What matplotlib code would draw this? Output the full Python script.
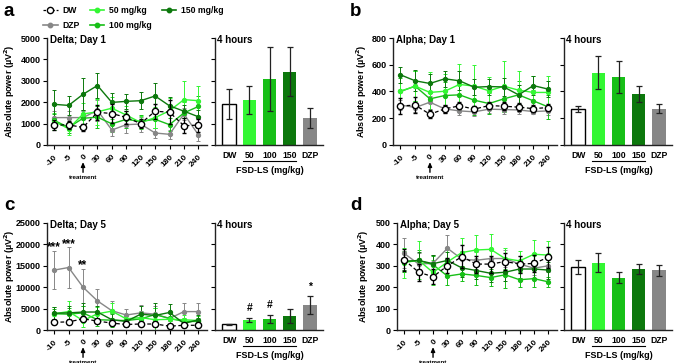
import matplotlib
matplotlib.use('Agg')
import matplotlib.pyplot as plt
import matplotlib.transforms as mtransforms
import numpy as np

plt.rcParams['font.family'] = ['Liberation Sans', 'DejaVu Sans']
plt.rcParams['font.weight'] = 'bold'
plt.rcParams['font.size'] = 6.5

times = ['-10', '-5', '0', '30', '60', '90', '120', '150', '180', '210', '240']
groups = ['DW', '50 mg/kg', '100 mg/kg', '150 mg/kg', 'DZP']
bar_labels = ['DW', '50', '100', '150', 'DZP']
colors = {'DW': 'white', '50 mg/kg': '#33f733', '100 mg/kg': '#17bf17',
          '150 mg/kg': '#0c780c', 'DZP': '#878787'}

# ---- a: Delta, Day 1 ----
a_mean = {
    'DW':        [930, 940, 820, 1530, 1470, 1290, 1000, 1580, 1530, 900, 930],
    '50 mg/kg':  [1100, 760, 1450, 1550, 1720, 1400, 1050, 1280, 1600, 2120, 2070],
    '100 mg/kg': [1150, 820, 1250, 1300, 990, 1200, 1100, 1200, 950, 1500, 1800],
    '150 mg/kg': [1900, 1850, 2370, 2780, 1990, 2040, 2070, 2290, 1830, 1580, 1320],
    'DZP':       [1280, 1280, 1280, 1620, 700, 950, 980, 560, 500, 1450, 480],
}
a_err = {
    'DW':        [250, 200, 150, 350, 450, 300, 200, 350, 550, 350, 300],
    '50 mg/kg':  [400, 300, 500, 600, 500, 400, 300, 500, 600, 850, 700],
    '100 mg/kg': [300, 250, 400, 500, 400, 400, 300, 400, 300, 500, 500],
    '150 mg/kg': [650, 450, 750, 600, 450, 350, 400, 600, 400, 300, 300],
    'DZP':       [300, 300, 300, 500, 300, 400, 350, 250, 200, 300, 300],
}
a_bar = [1900, 2120, 3100, 3420, 1260]
a_bar_err = [700, 650, 1500, 1150, 450]

# ---- b: Alpha, Day 1 ----
b_mean = {
    'DW':        [292, 298, 230, 270, 293, 268, 295, 290, 283, 272, 280],
    '50 mg/kg':  [402, 440, 393, 402, 453, 440, 405, 440, 410, 393, 393],
    '100 mg/kg': [400, 440, 345, 370, 375, 335, 310, 345, 375, 330, 285],
    '150 mg/kg': [525, 480, 460, 495, 480, 432, 437, 434, 375, 444, 418],
    'DZP':       [300, 280, 320, 270, 255, 248, 268, 265, 262, 250, 255],
}
b_err = {
    'DW':        [60, 60, 30, 30, 25, 25, 25, 30, 30, 25, 25],
    '50 mg/kg':  [120, 110, 150, 130, 150, 160, 100, 190, 140, 120, 120],
    '100 mg/kg': [100, 110, 120, 100, 110, 110, 80, 100, 100, 80, 90],
    '150 mg/kg': [60, 80, 70, 60, 70, 60, 60, 70, 70, 70, 60],
    'DZP':       [40, 30, 50, 30, 30, 30, 30, 30, 30, 20, 30],
}
b_bar = [268, 540, 508, 382, 270]
b_bar_err = [20, 125, 118, 57, 33]

# ---- c: Delta, Day 5 ----
c_mean = {
    'DW':        [1800, 1900, 2600, 2100, 1600, 1300, 1400, 1400, 900, 1100, 1100],
    '50 mg/kg':  [3800, 4300, 2200, 3800, 4400, 2600, 2900, 2400, 2500, 2400, 2200],
    '100 mg/kg': [3800, 3700, 4000, 2400, 2300, 2200, 2600, 3600, 2700, 2000, 2000],
    '150 mg/kg': [3900, 4000, 4200, 4200, 2400, 2000, 3700, 3400, 4100, 1500, 2400],
    'DZP':       [14000, 14600, 10000, 6800, 4500, 3500, 4000, 3700, 2700, 4300, 4300],
}
c_err = {
    'DW':        [400, 400, 600, 500, 400, 300, 300, 400, 200, 300, 300],
    '50 mg/kg':  [1500, 2500, 1500, 1500, 1800, 1200, 1500, 2800, 1500, 1000, 1000],
    '100 mg/kg': [1200, 1500, 1500, 1500, 1500, 1000, 1500, 1500, 1500, 800, 800],
    '150 mg/kg': [1500, 1500, 2200, 1500, 1500, 1200, 2000, 2800, 2000, 900, 1000],
    'DZP':       [4500, 4700, 4300, 2800, 2300, 1500, 1800, 2000, 1500, 2000, 2000],
}
c_bar = [1300, 2400, 2600, 3300, 5800]
c_bar_err = [200, 500, 1000, 1700, 2100]
c_line_marks = {0: '***', 1: '***', 2: '**'}
c_bar_marks = {1: '#', 2: '#', 4: '*'}

# ---- d: Alpha, Day 5 ----
d_mean = {
    'DW':        [328, 270, 249, 300, 343, 308, 308, 320, 308, 311, 340],
    '50 mg/kg':  [315, 326, 269, 318, 362, 374, 377, 334, 323, 354, 350],
    '100 mg/kg': [320, 325, 305, 252, 262, 255, 245, 258, 235, 240, 225],
    '150 mg/kg': [320, 325, 310, 325, 290, 278, 265, 270, 285, 285, 280],
    'DZP':       [358, 308, 312, 382, 331, 326, 334, 334, 308, 289, 300],
}
d_err = {
    'DW':        [50, 40, 35, 35, 55, 40, 40, 40, 40, 40, 50],
    '50 mg/kg':  [70, 90, 60, 60, 70, 70, 70, 50, 45, 65, 65],
    '100 mg/kg': [50, 50, 40, 40, 35, 45, 40, 60, 35, 40, 25],
    '150 mg/kg': [40, 40, 40, 40, 40, 40, 40, 40, 40, 40, 40],
    'DZP':       [70, 50, 40, 60, 40, 40, 40, 40, 40, 30, 30],
}
d_bar = [295, 315, 245, 285, 280]
d_bar_err = [33, 45, 27, 22, 26]

W, H = 676, 363
fig = plt.figure(figsize=(W / 100, H / 100), dpi=100)


def px_axes(x0, x1, ytop, ybot):
    return fig.add_axes([x0 / W, 1 - ybot / H, (x1 - x0) / W, (ybot - ytop) / H])


def style(ax):
    for s in ['top', 'right']:
        ax.spines[s].set_visible(False)
    for s in ['left', 'bottom']:
        ax.spines[s].set_linewidth(1.0)
        ax.spines[s].set_color('#222222')
    ax.tick_params(length=3, width=0.8, labelsize=6.5, pad=1.5)


def panel(lx0, lx1, bx0, bx1, ytop, ybot, ylab_x, mean, err, bar, bar_err, ymax, ystep,
          title, line_marks=None, bar_marks=None):
    ax = px_axes(lx0, lx1, ytop, ybot)
    bx = px_axes(bx0, bx1, ytop, ybot)
    x = np.arange(len(times))
    for g in ['DZP', '100 mg/kg', '50 mg/kg', '150 mg/kg']:
        ax.errorbar(x, mean[g], yerr=err[g], color=colors[g], lw=1.0,
                    marker='o', ms=2.8, capsize=1.3, elinewidth=0.7, capthick=0.7)
    ax.errorbar(x, mean['DW'], yerr=err['DW'], color='black', ls=(0, (3, 2)), lw=0.9,
                marker='o', ms=4.5, mfc='white', mec='black', mew=1.0,
                capsize=1.3, elinewidth=0.9, capthick=0.9, zorder=5)
    ax.set_xlim(-0.5, 10.6)
    ax.set_ylim(0, ymax)
    ax.set_yticks(np.arange(0, ymax + 1, ystep))
    ax.set_xticks(x)
    style(ax)
    ax.set_xticklabels(times, rotation=45, ha='right', rotation_mode='anchor', fontsize=6)
    ax.tick_params(axis='x', pad=3)
    ax.set_ylabel('Absolute power (µV$^\\mathbf{2}$)', fontsize=6.5, fontweight='bold')
    ax.yaxis.set_label_coords((ylab_x - lx0) / (lx1 - lx0), 0.5)
    ax.text(0.02, 0.985, title, transform=ax.transAxes, va='center', ha='left',
            fontsize=7, fontweight='bold')
    # treatment arrow
    tr = mtransforms.blended_transform_factory(ax.transData, ax.transAxes)
    ax.annotate('', xy=(2, -0.16), xytext=(2, -0.255), xycoords=tr, textcoords=tr,
                arrowprops=dict(arrowstyle='-|>,head_length=0.4,head_width=0.18',
                                color='black', lw=1.0, shrinkA=0, shrinkB=0))
    ax.text(2, -0.3, 'treatment', transform=tr, ha='center', va='center', fontsize=4.5)
    if line_marks:
        for i, s in line_marks.items():
            ax.text(i, mean['DZP'][i] + err['DZP'][i] - 600, s, ha='center', va='bottom',
                    fontsize=8.5, fontweight='bold')

    bxx = np.arange(len(bar_labels))
    for i, g in enumerate(groups):
        ec = 'black' if g == 'DW' else colors[g]
        bx.bar(bxx[i], bar[i], width=0.66, color=colors[g], edgecolor=ec,
               lw=1.0 if g == 'DW' else 0)
        bx.errorbar(bxx[i], bar[i], yerr=bar_err[i], color='#222222', capsize=2,
                    elinewidth=0.9, capthick=0.9)
    bx.set_xlim(-0.7, 4.65)
    bx.set_ylim(0, ymax)
    bx.set_yticks(np.arange(0, ymax + 1, ystep))
    bx.set_yticklabels([])
    bx.set_xticks(bxx)
    style(bx)
    bx.set_xticklabels(bar_labels, fontsize=6.2)
    bx.tick_params(axis='x', length=0, pad=4)
    bx.text(0.02, 0.985, '4 hours', transform=bx.transAxes, va='center', ha='left',
            fontsize=7, fontweight='bold')
    btr = mtransforms.blended_transform_factory(bx.transData, bx.transAxes)
    bx.plot([0.67, 3.33], [-0.15, -0.15], transform=btr, color='black', lw=0.8, clip_on=False)
    bx.text(2, -0.235, 'FSD-LS (mg/kg)', transform=btr, ha='center', va='center', fontsize=6.5)
    if bar_marks:
        for i, s in bar_marks.items():
            bx.annotate(s, (i, bar[i] + bar_err[i]), xytext=(0, 3), textcoords='offset points',
                        ha='center', va='bottom', fontsize=7.5, fontweight='bold')
    return ax


ax_a = panel(47, 207, 215, 323, 38, 145, 17, a_mean, a_err, a_bar, a_bar_err, 5000, 1000,
             'Delta; Day 1')
panel(393, 557, 564, 672, 38, 145, 369, b_mean, b_err, b_bar, b_bar_err, 800, 200,
      'Alpha; Day 1')
panel(47, 207, 215, 323, 223, 330, 17, c_mean, c_err, c_bar, c_bar_err, 25000, 5000,
      'Delta; Day 5', c_line_marks, c_bar_marks)
panel(397, 557, 564, 672, 223, 330, 371, d_mean, d_err, d_bar, d_bar_err, 500, 100,
      'Alpha; Day 5')

for lab, xp, yp in [('a', 4, 11), ('b', 350, 11), ('c', 4, 206), ('d', 350, 206)]:
    fig.text(xp / W, 1 - yp / H, lab, fontsize=13.5, fontweight='bold', va='center', ha='left')

# legend
handles = []
for g in ['DW', 'DZP', '50 mg/kg', '100 mg/kg', '150 mg/kg']:
    if g == 'DW':
        h, = ax_a.plot([], [], color='black', ls=(0, (2, 1.5)), lw=0.9, marker='o', ms=4.5,
                       mfc='white', mec='black', mew=1.0)
    else:
        h, = ax_a.plot([], [], color=colors[g], lw=1.2, marker='o', ms=3.2)
    handles.append(h)
fig.legend(handles, ['DW', 'DZP', '50 mg/kg', '100 mg/kg', '150 mg/kg'], ncol=3,
           loc='upper left', bbox_to_anchor=(37 / W, 1 - 0 / H), frameon=False,
           fontsize=6.2, handlelength=1.7, handletextpad=0.6, columnspacing=1.1,
           labelspacing=0.7, borderpad=0.2)

fig.savefig('out.png', dpi=100)
